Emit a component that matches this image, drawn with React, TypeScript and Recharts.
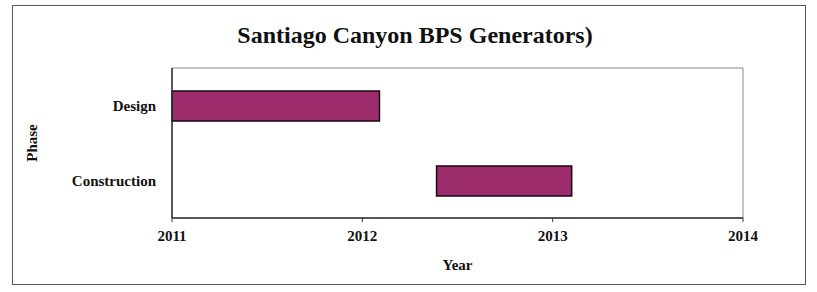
import React from 'react';
import { BarChart, Bar, XAxis, YAxis, ReferenceArea } from 'recharts';

const phases = ['Design', 'Construction'];
const startYears = [2011, 2012.39];
const endYears = [2012.09, 2013.1];
const yearTicks = [2011, 2012, 2013, 2014];

const data = phases.map((phase, i) => ({ phase, span: [startYears[i], endYears[i]] }));

const font = '"Liberation Serif", "Times New Roman", serif';
const tickStyle = { fontSize: 15, fill: '#111', fontWeight: 700, fontFamily: font };

export default function App() {
  return (
    <div style={{ position: 'absolute', left: 0, top: 0, width: 817, height: 292, background: '#fff' }}>
      <div
        style={{
          position: 'absolute', left: 12, top: 5, width: 794, height: 280,
          border: '1.5px solid #555', boxSizing: 'border-box',
        }}
      />
      <div
        style={{
          position: 'absolute', left: 0, top: 22, width: 830, textAlign: 'center',
          fontFamily: font, fontWeight: 700, fontSize: 24, color: '#111',
        }}
      >
        Santiago Canyon BPS Generators)
      </div>
      <div style={{ position: 'absolute', left: 0, top: 0 }}>
        <BarChart
          width={817}
          height={292}
          data={data}
          layout="vertical"
          margin={{ top: 68, right: 74, left: 30, bottom: 18 }}
        >
          <ReferenceArea x1={2011} x2={2014} stroke="#888" strokeWidth={1} fill="none" fillOpacity={0} ifOverflow="visible" />
          <XAxis
            type="number"
            domain={[2011, 2014]}
            ticks={yearTicks}
            height={56}
            tick={tickStyle}
            tickMargin={8}
            tickSize={4}
            stroke="#333"
            axisLine={{ stroke: '#333', strokeWidth: 1.5 }}
            label={{ value: 'Year', position: 'insideBottom', offset: 4, style: { fontSize: 15, fontWeight: 700, fill: '#111', fontFamily: font } }}
          />
          <YAxis
            type="category"
            dataKey="phase"
            width={142}
            tick={tickStyle}
            tickLine={false}
            tickMargin={10}
            axisLine={{ stroke: '#333', strokeWidth: 1.5 }}
            label={{ value: 'Phase', angle: -90, position: 'insideLeft', offset: 2, style: { fontSize: 15, fontWeight: 700, fill: '#111', fontFamily: font, textAnchor: 'middle' } }}
          />
          <Bar dataKey="span" fill="#9c2c6c" stroke="#1a0a12" strokeWidth={1.5} barSize={30} isAnimationActive={false} />
        </BarChart>
      </div>
    </div>
  );
}
